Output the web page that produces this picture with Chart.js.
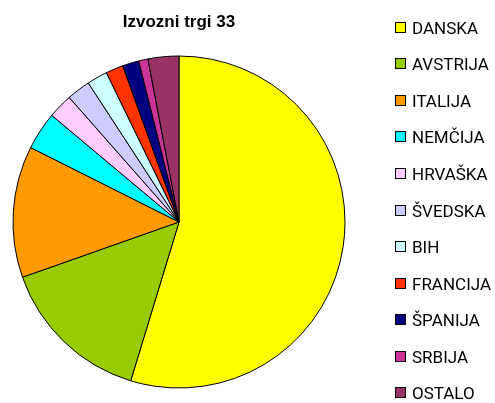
<!DOCTYPE html>
<html>
<head>
<meta charset="utf-8">
<script src="https://cdn.jsdelivr.net/npm/chart.js@4/dist/chart.umd.min.js"></script>
<style>
  html, body { margin: 0; padding: 0; background: #fff; }
  #wrap { width: 495px; height: 403px; position: relative; }
</style>
</head>
<body>
<div id="wrap"><canvas id="c" width="495" height="403"></canvas></div>
<script>
// Export markets, share in percent
const markets = ['DANSKA', 'AVSTRIJA', 'ITALIJA', 'NEMČIJA', 'HRVAŠKA', 'ŠVEDSKA', 'BIH', 'FRANCIJA', 'ŠPANIJA', 'SRBIJA', 'OSTALO'];
const shares = [54.7, 14.9, 12.8, 3.7, 2.4, 2.3, 2.0, 1.7, 1.6, 0.9, 3.0];
const sliceColors = ['#FFFF00', '#99CC00', '#FF9900', '#00FFFF', '#FFCCFF', '#CCCCFF', '#CCFFFF', '#FF3300', '#000080', '#CC3399', '#993366'];
const chartTitle = 'Izvozni trgi 33';

// Legend column on the right: small bordered squares with labels
const sideLegend = {
  id: 'sideLegend',
  afterDraw(chart) {
    const ctx = chart.ctx;
    const labels = chart.data.labels;
    const colors = chart.data.datasets[0].backgroundColor;
    ctx.save();
    ctx.font = '17px Roboto, "Liberation Sans", sans-serif';
    ctx.textBaseline = 'alphabetic';
    ctx.textAlign = 'left';
    labels.forEach((label, i) => {
      const top = Math.floor(22.2 + i * 36.57) + 0.5;
      ctx.fillStyle = colors[i];
      ctx.fillRect(395.5, top, 10, 10);
      ctx.strokeStyle = '#000';
      ctx.lineWidth = 1;
      ctx.strokeRect(395.5, top, 10, 10);
      ctx.fillStyle = '#000';
      ctx.fillText(label, 412, top + 11);
    });
    ctx.restore();
  }
};

new Chart(document.getElementById('c'), {
  type: 'pie',
  data: {
    labels: markets,
    datasets: [{
      data: shares,
      backgroundColor: sliceColors,
      borderColor: '#000',
      borderWidth: 1
    }]
  },
  options: {
    responsive: false,
    animation: false,
    layout: { padding: { left: 12.5, right: 149.5, top: 0, bottom: 14.5 } },
    plugins: {
      legend: { display: false },
      tooltip: { enabled: false },
      title: {
        display: true,
        text: chartTitle,
        color: '#000',
        fullSize: false,
        font: { family: '"Liberation Sans", Arial, sans-serif', size: 17, weight: 'bold' },
        padding: { top: 12.2, bottom: 22.9 }
      }
    }
  },
  plugins: [sideLegend]
});
</script>
</body>
</html>
